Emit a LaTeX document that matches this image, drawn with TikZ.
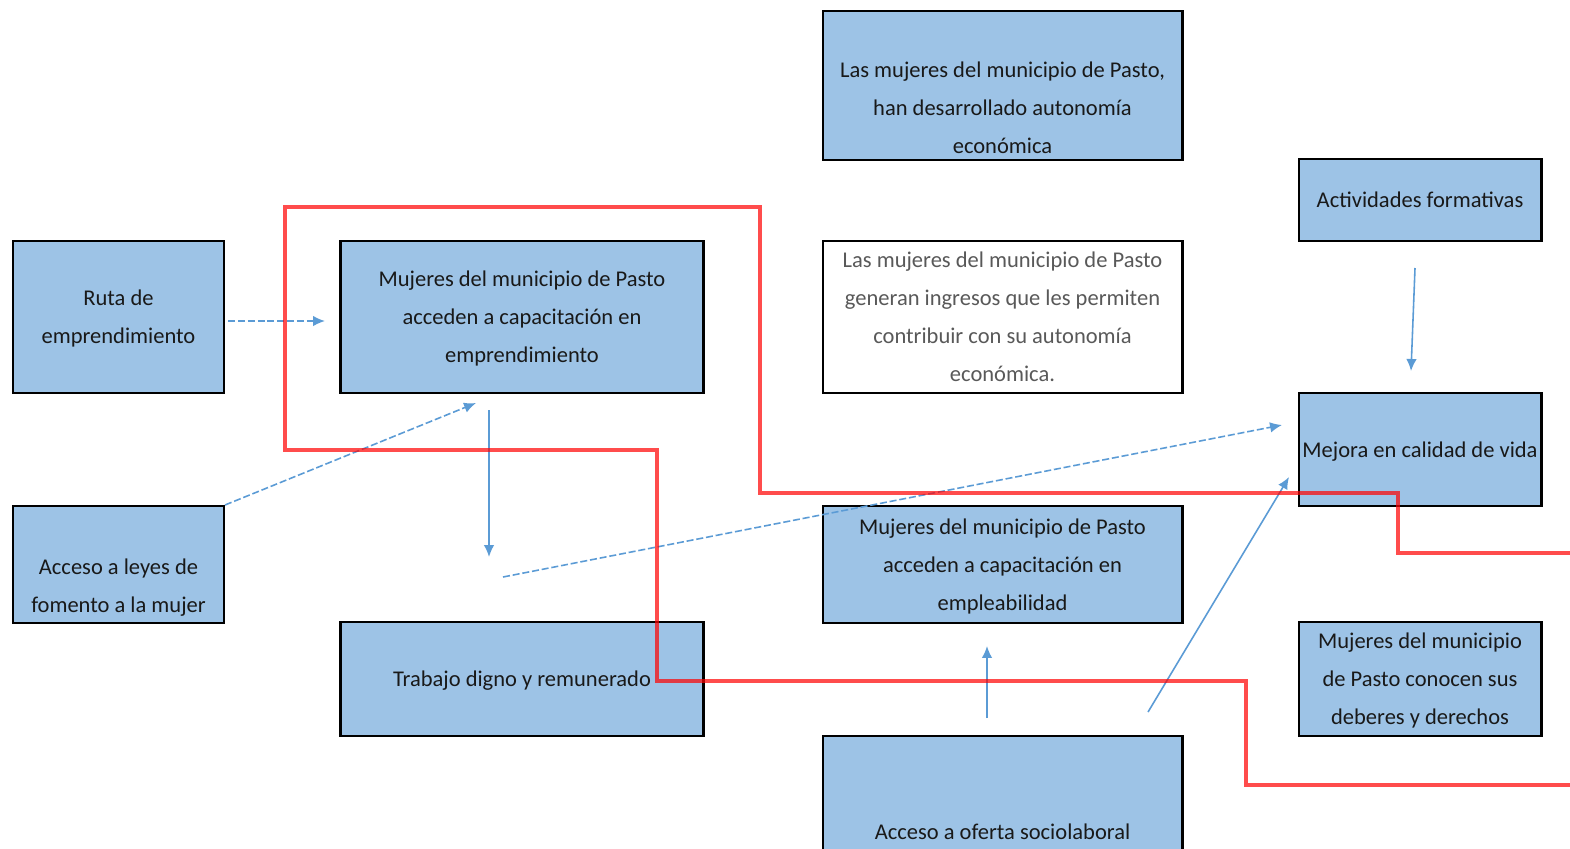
\documentclass[tikz,border=0pt]{standalone}
\usepackage{fontspec}
\setmainfont{Carlito}
\usepackage{xcolor}
\usetikzlibrary{calc, arrows.meta}

\definecolor{cajaazul}{HTML}{9DC3E6}
\definecolor{flecha}{HTML}{5B9BD5}

\begin{document}
\begin{tikzpicture}[x=0.01cm, y=-0.01cm, >={Latex[length=3.4pt,width=3pt]},
    texto/.style={align=center, font=\fontsize{6.4}{10.8}\selectfont, text=black!90, inner sep=0pt},
    caja/.style={texto, text depth=-1.2pt, draw=black, line width=0.8pt, fill=cajaazul},
    flechita/.style={->, draw=flecha, line width=0.45pt},
    discont/.style={dash pattern=on 2pt off 0.8pt}]
    \clip (0,0) rectangle (1570,848);

    % Columna izquierda
    \node[caja, minimum width=2.11cm, minimum height=1.52cm] (ruta) at (118.5,317) {Ruta de\\emprendimiento};
    \node[caja, minimum width=2.11cm, minimum height=1.17cm] (leyes) at (118.5,564.5) {};
    \node[texto] (leyes-txt) at ($(leyes)+(0,23)$) {Acceso a leyes de\\fomento a la mujer};

    % Segunda columna
    \node[caja, minimum width=3.62cm, minimum height=1.52cm] (emp) at (522,317) {Mujeres del municipio de Pasto\\acceden a capacitación en\\emprendimiento};
    \node[caja, minimum width=3.62cm, minimum height=1.14cm] (trabajo) at (522,679) {Trabajo digno y remunerado};

    % Columna central
    \node[caja, minimum width=3.59cm, minimum height=1.49cm] (autonomia) at (1002.5,85.5) {};
    \node[texto] (autonomia-txt) at ($(autonomia)+(0,22)$) {Las mujeres del municipio de Pasto,\\han desarrollado autonomía\\económica};
    \node[caja, fill=white, text=black!65, minimum width=3.59cm, minimum height=1.52cm] (ingresos) at (1002.5,317) {Las mujeres del municipio de Pasto\\generan ingresos que les permiten\\contribuir con su autonomía\\económica.};
    \node[caja, minimum width=3.59cm, minimum height=1.17cm] (empleo) at (1002.5,564.5) {Mujeres del municipio de Pasto\\acceden a capacitación en\\empleabilidad};
    \node[caja, minimum width=3.59cm, minimum height=1.28cm] (oferta) at (1002.5,800) {};
    \node[texto] (oferta-txt) at ($(oferta)+(0,32)$) {Acceso a oferta sociolaboral};

    % Columna derecha
    \node[caja, minimum width=2.42cm, minimum height=0.82cm] (actividades) at (1420,200) {Actividades formativas};
    \node[caja, minimum width=2.42cm, minimum height=1.13cm] (mejora) at (1420,449.5) {Mejora en calidad de vida};
    \node[caja, minimum width=2.42cm, minimum height=1.14cm] (deberes) at (1420,679) {Mujeres del municipio\\de Pasto conocen sus\\deberes y derechos};

    % Extremos de las flechas
    \coordinate (ruta-sal) at (228,321);
    \coordinate (emp-ent) at (325,321);
    \coordinate (leyes-sal) at (225,505);
    \coordinate (emp-ent2) at (476,403);
    \coordinate (emp-sal) at (489,410);
    \coordinate (trabajo-ent) at (489,557);
    \coordinate (trabajo-sal) at (503,577);
    \coordinate (mejora-ent) at (1282,425);
    \coordinate (act-sal) at (1415,268);
    \coordinate (mejora-ent2) at (1411,371);
    \coordinate (oferta-sal) at (987,718);
    \coordinate (empleo-ent) at (987,646);
    \coordinate (oferta-sal2) at (1148,712);
    \coordinate (mejora-ent3) at (1289,477);

    % Flechas
    \draw[flechita, discont] (ruta-sal) -- (emp-ent);
    \draw[flechita, discont] (leyes-sal) -- (emp-ent2);
    \draw[flechita] (emp-sal) -- (trabajo-ent);
    \draw[flechita, discont] (trabajo-sal) -- (mejora-ent);
    \draw[flechita] (act-sal) -- (mejora-ent2);
    \draw[flechita] (oferta-sal) -- (empleo-ent);
    \draw[flechita] (oferta-sal2) -- (mejora-ent3);

    % Linea roja
    \draw[red, opacity=0.7, line width=1pt]
       (1580,553) -- (1398,553) -- (1398,493) -- (760,493) -- (760,207) -- (285,207)
       -- (285,450) -- (657,450) -- (657,681) -- (1246,681) -- (1246,785) -- (1580,785);
\end{tikzpicture}
\end{document}
